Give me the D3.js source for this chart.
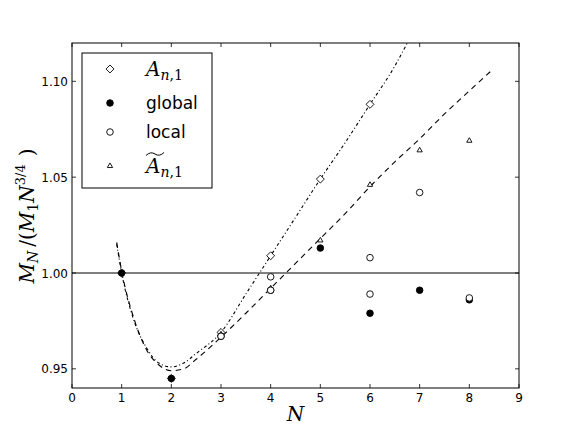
<!DOCTYPE html>
<html><head><meta charset="utf-8">
<script src="https://cdn.jsdelivr.net/npm/d3@7"></script>
<style>body{margin:0;background:#fff}svg{display:block}</style>
</head><body>
<script>
// ---- data ----
const xTicks = [0,1,2,3,4,5,6,7,8,9];
const yTicks = [0.95,1.00,1.05,1.10];
const yTickLabels = ["0.95","1.00","1.05","1.10"];

const diamondN = [1,2,3,4,5,6];
const diamondV = [1.000,0.945,0.969,1.009,1.049,1.088];

const globalN = [1,2,3,4,5,6,7,8];
const globalV = [1.000,0.945,0.967,0.991,1.013,0.979,0.991,0.986];

const localN = [3,4,4,6,6,7,8];
const localV = [0.967,0.998,0.991,1.008,0.989,1.042,0.987];

const triN = [3,4,5,6,7,8];
const triV = [0.968,0.992,1.017,1.046,1.064,1.069];

// fitted curve for A_{n,1} (dotted)
const dotCurveN = [0.9,1.0,1.25,1.5,1.75,2.0,2.25,2.5,3.0,3.5,4.0,4.5,5.0,5.5,6.0,6.5,6.75];
const dotCurveV = [1.015,1.000,0.975,0.961,0.953,0.951,0.953,0.958,0.969,0.989,1.009,1.029,1.049,1.068,1.088,1.108,1.120];
// fitted curve for A~_{n,1} (dashed)
const dashCurveN = [0.9,1.0,1.25,1.5,1.75,2.0,2.25,2.5,3.0,3.5,4.0,4.5,5.0,5.5,6.0,6.5,7.0,7.5,8.0,8.42];
const dashCurveV = [1.016,1.001,0.976,0.960,0.952,0.949,0.950,0.955,0.9665,0.979,0.992,1.005,1.018,1.031,1.045,1.058,1.070,1.083,1.095,1.105];

const refLine = 1.00;

// ---- layout ----
const W=576,H=432;
const L=72,R=519,T=43,B=388;
const svg=d3.select("body").append("svg").attr("width",W).attr("height",H);
const x=d3.scaleLinear().domain([0,9]).range([L,R]);
const y=d3.scaleLinear().domain([0.94,1.12]).range([B,T]);

svg.append("defs").append("clipPath").attr("id","clip")
  .append("rect").attr("x",L).attr("y",T).attr("width",R-L).attr("height",B-T);
const plot=svg.append("g").attr("clip-path","url(#clip)");

// reference line
plot.append("line").attr("x1",L).attr("x2",R).attr("y1",y(refLine)).attr("y2",y(refLine))
  .attr("stroke","#000").attr("stroke-width",1);

const line=d3.line().x(d=>x(d[0])).y(d=>y(d[1])).curve(d3.curveMonotoneX);
plot.append("path").datum(dotCurveN.map((n,i)=>[n,dotCurveV[i]])).attr("d",line)
  .attr("fill","none").attr("stroke","#000").attr("stroke-width",1.1).attr("stroke-dasharray","3,2.5,1,2.5");
plot.append("path").datum(dashCurveN.map((n,i)=>[n,dashCurveV[i]])).attr("d",line)
  .attr("fill","none").attr("stroke","#000").attr("stroke-width",1.1).attr("stroke-dasharray","5.5,4.5");

const sym={
  diamond: d3.symbol().type(d3.symbolDiamond2).size(40),
  circle: d3.symbol().type(d3.symbolCircle).size(34),
  tri: d3.symbol().type(d3.symbolTriangle2).size(20)
};
function pts(N,V,s,fill){
  plot.append("g").selectAll("path").data(N.map((n,i)=>[n,V[i]])).join("path")
    .attr("transform",d=>`translate(${x(d[0])},${y(d[1])})`)
    .attr("d",s).attr("fill",fill).attr("stroke","#000").attr("stroke-width",0.9);
}
pts(diamondN,diamondV,sym.diamond,"#fff");
pts(triN,triV,sym.tri,"#fff");
pts(globalN,globalV,sym.circle,"#000");
pts(localN,localV,sym.circle,"#fff");

// frame
svg.append("rect").attr("x",L).attr("y",T).attr("width",R-L).attr("height",B-T)
  .attr("fill","none").attr("stroke","#000").attr("stroke-width",1);

// ticks (inward, all sides)
const tk=svg.append("g").attr("stroke","#000").attr("stroke-width",0.8);
xTicks.forEach(t=>{
  tk.append("line").attr("x1",x(t)).attr("x2",x(t)).attr("y1",B).attr("y2",B-4);
  tk.append("line").attr("x1",x(t)).attr("x2",x(t)).attr("y1",T).attr("y2",T+4);
});
yTicks.forEach(t=>{
  tk.append("line").attr("y1",y(t)).attr("y2",y(t)).attr("x1",L).attr("x2",L+4);
  tk.append("line").attr("y1",y(t)).attr("y2",y(t)).attr("x1",R).attr("x2",R-4);
});
const tf="DejaVu Sans, sans-serif";
svg.append("g").selectAll("text").data(xTicks).join("text")
  .attr("x",d=>x(d)).attr("y",402).attr("text-anchor","middle")
  .attr("font-family",tf).attr("font-size",12).text(d=>d);
svg.append("g").selectAll("text").data(yTicks).join("text")
  .attr("x",L-4).attr("y",d=>y(d)+4.5).attr("text-anchor","end")
  .attr("font-family",tf).attr("font-size",12).text((d,i)=>yTickLabels[i]);

// axis labels
const sf="DejaVu Serif, serif";
svg.append("text").attr("x",(L+R)/2).attr("y",421).attr("text-anchor","middle")
  .attr("font-family",sf).attr("font-style","italic").attr("font-size",20).text("N");

const yl=svg.append("text").attr("transform","translate(34,216) rotate(-90)")
  .attr("text-anchor","middle").attr("font-family",sf).attr("font-size",20);
yl.append("tspan").attr("font-style","italic").text("M");
yl.append("tspan").attr("font-style","italic").attr("font-size",14).attr("dy",4).text("N");
yl.append("tspan").attr("dy",-4).text("\u2009/(");
yl.append("tspan").attr("font-style","italic").text("M");
yl.append("tspan").attr("font-size",14).attr("dy",4).text("1");
yl.append("tspan").attr("font-style","italic").attr("dy",-4).text("N");
yl.append("tspan").attr("font-size",13).attr("dy",-9).text("3/4");
yl.append("tspan").attr("dy",9).text("\u2009\u2009)");

// legend
const lg=svg.append("g");
lg.append("rect").attr("x",82).attr("y",53).attr("width",130).attr("height",135)
  .attr("fill","#fff").attr("stroke","#000").attr("stroke-width",1);
const rows=[
  {y:69, s:sym.diamond, f:"#fff", label:"A", kind:"math"},
  {y:103, s:sym.circle, f:"#000", label:"global", kind:"text"},
  {y:132, s:sym.circle, f:"#fff", label:"local", kind:"text"},
  {y:166, s:sym.tri, f:"#fff", label:"A", kind:"mathtilde"}
];
rows.forEach(r=>{
  lg.append("path").attr("transform",`translate(110,${r.y})`).attr("d",r.s)
    .attr("fill",r.f).attr("stroke","#000").attr("stroke-width",0.9);
  if(r.kind==="text"){
    lg.append("text").attr("x",146).attr("y",r.y+6).attr("font-family",tf).attr("font-size",17).text(r.label);
  } else {
    const t=lg.append("text").attr("x",146).attr("y",r.y+7).attr("font-family",sf).attr("font-size",20);
    t.append("tspan").attr("font-style","italic").text("A");
    t.append("tspan").attr("font-style","italic").attr("font-size",14).attr("dy",4).text("n");
    t.append("tspan").attr("font-size",14).text(",1");
    if(r.kind==="mathtilde"){
      const bx=146, by=r.y-12;
      lg.append("path").attr("d",`M${bx},${by+1.5} Q${bx+4.5},${by-3} ${bx+9},${by} T${bx+18},${by-1.5}`)
        .attr("fill","none").attr("stroke","#000").attr("stroke-width",1);
    }
  }
});
</script>
</body></html>
